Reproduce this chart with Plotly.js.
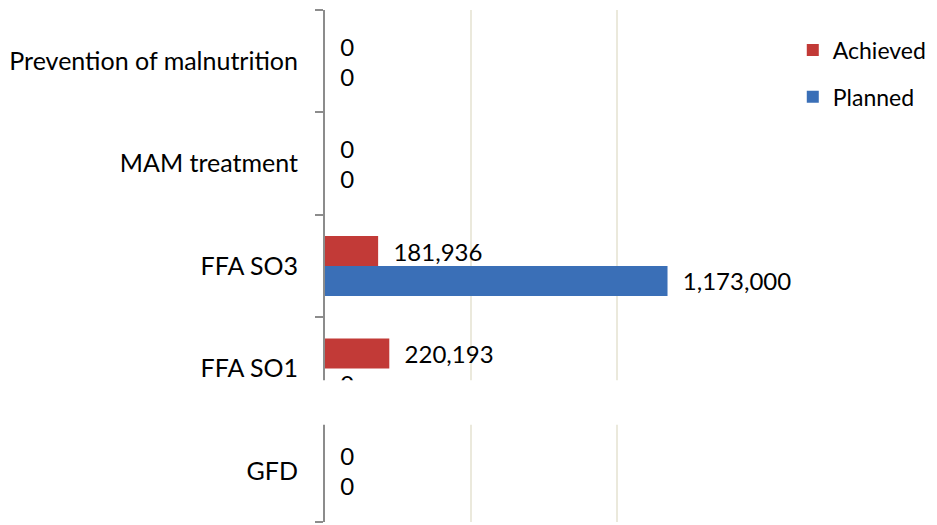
<!DOCTYPE html>
<html>
<head>
<meta charset="utf-8">
<script src="https://cdn.plot.ly/plotly-3.0.1.min.js"></script>
<style>
  html, body { margin: 0; padding: 0; background: #fff; }
  #chart { width: 937px; height: 525px; }
</style>
</head>
<body>
<div id="chart"></div>
<script>
// categories bottom to top, as plotly stacks them
var categories = ['GFD', 'FFA SO1', 'FFA SO3', 'MAM treatment', 'Prevention of malnutrition'];
var achieved = [0, 220193, 181936, 0, 0];
var planned = [0, 0, 1173000, 0, 0];

var labelFont = {family: 'Lato, "Open Sans", sans-serif', size: 24, color: '#000'};
var catFont = {family: 'Lato, "Open Sans", sans-serif', size: 25, color: '#000'};

var traces = [
    {
        type: 'bar', orientation: 'h', name: 'Planned', legendgroup: 'p', legendrank: 2,
        y: categories, x: planned,
        marker: {color: '#3a6fb7'},
        texttemplate: '\u00a0\u00a0%{x:,}', textposition: 'outside',
        textfont: labelFont, constraintext: 'none', cliponaxis: false,
        hoverinfo: 'x+name'
    },
    {
        type: 'bar', orientation: 'h', name: 'Achieved', legendgroup: 'a', legendrank: 1,
        y: categories, x: achieved,
        marker: {color: '#c23a37'},
        texttemplate: '\u00a0\u00a0%{x:,}', textposition: 'outside',
        textfont: labelFont, constraintext: 'none', cliponaxis: false,
        hoverinfo: 'x+name'
    }
];

var layout = {
    width: 937,
    height: 525,
    margin: {l: 325, r: 174, t: 10, b: 3},
    paper_bgcolor: '#fff',
    plot_bgcolor: '#fff',
    font: labelFont,
    barmode: 'group',
    bargap: 0.415,
    bargroupgap: 0,
    showlegend: true,
    legend: {
        x: 1.068, xanchor: 'left', y: 0.964, yanchor: 'top',
        traceorder: 'grouped', tracegroupgap: 14,
        font: {family: 'Lato, "Open Sans", sans-serif', size: 23, color: '#000'},
        bgcolor: 'rgba(0,0,0,0)'
    },
    xaxis: {
        range: [0, 1500000],
        dtick: 500000,
        showticklabels: false,
        showgrid: true,
        gridcolor: '#ebe9dc',
        gridwidth: 1.5,
        zeroline: false,
        showline: false,
        ticks: ''
    },
    yaxis: {
        type: 'category',
        showline: true,
        linecolor: '#8c8c8c',
        linewidth: 2,
        ticks: 'outside',
        tickson: 'boundaries',
        ticklen: 8,
        tickcolor: '#8c8c8c',
        tickwidth: 2,
        ticklabelstandoff: 20,
        showgrid: false,
        tickfont: catFont
    },
    shapes: [
        // white band that cuts across the reference picture
        {type: 'rect', xref: 'paper', yref: 'paper', layer: 'above',
         x0: -0.75, x1: 1.42, y0: 0.19, y1: 0.277,
         fillcolor: '#fff', line: {width: 0}}
    ]
};

Plotly.newPlot('chart', traces, layout, {displayModeBar: false, staticPlot: true});
</script>
</body>
</html>
